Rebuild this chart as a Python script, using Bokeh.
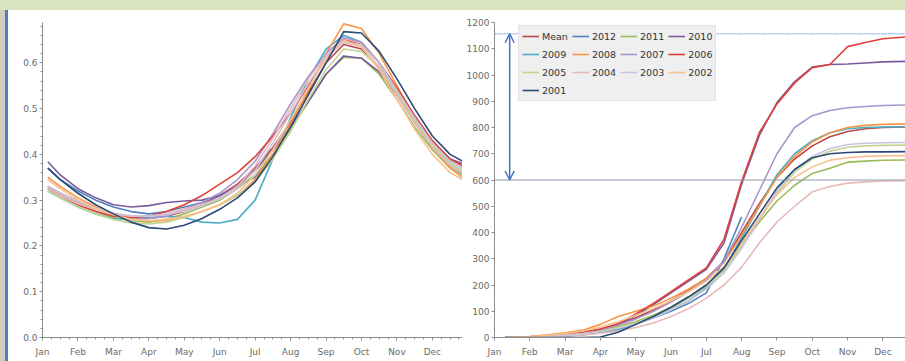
import math
from bokeh.plotting import figure
from bokeh.models import (FixedTicker, Legend, LegendItem, Arrow, OpenHead, Span,
                          Div, Range1d, NumeralTickFormatter)
from bokeh.layouts import row, column
from bokeh.embed import file_html
from bokeh.resources import INLINE

NaN = float("nan")

MONTHS = ["Jan", "Feb", "Mar", "Apr", "May", "Jun", "Jul", "Aug", "Sep", "Oct", "Nov", "Dec"]
MONTH_POS = [0, 1, 2, 3, 4, 5, 6, 7, 8, 9, 10, 11]

SERIES = ["Mean", "2012", "2011", "2010", "2009", "2008", "2007", "2006",
          "2005", "2004", "2003", "2002", "2001"]
COLORS = ["#b9474a", "#4f81bd", "#9bbb59", "#7a5a9e", "#4bacc6", "#f79646", "#a995cc",
          "#e0403a", "#c2d494", "#e8b9b7", "#c9c3dc", "#f9c08f", "#2a4a7a"]

# ---- left panel: x in months from 1 Jan, values ----
LEFT_X = [0.15, 0.5, 1, 1.5, 2, 2.5, 3, 3.5, 4, 4.5, 5, 5.5, 6, 6.5, 7, 7.5, 8, 8.5,
          9, 9.5, 10, 10.5, 11, 11.5, 11.85]
left_mean = [0.33, 0.315, 0.297, 0.283, 0.27, 0.262, 0.26, 0.265, 0.275, 0.29, 0.31, 0.335, 0.37, 0.415, 0.47, 0.535, 0.6, 0.64, 0.63, 0.59, 0.53, 0.47, 0.415, 0.375, 0.36]
left_2012 = [0.37, 0.345, 0.32, 0.3, 0.285, 0.275, 0.27, 0.275, 0.285, 0.295, 0.31, 0.33, 0.35, 0.4, 0.46, NaN, NaN, NaN, NaN, NaN, NaN, NaN, NaN, NaN, NaN]
left_2011 = [0.325, 0.31, 0.29, 0.275, 0.262, 0.255, 0.252, 0.258, 0.27, 0.285, 0.3, 0.325, 0.355, 0.4, 0.455, 0.515, 0.575, 0.612, 0.61, 0.575, 0.52, 0.46, 0.41, 0.37, 0.355]
left_2010 = [0.384, 0.355, 0.325, 0.305, 0.29, 0.285, 0.288, 0.295, 0.298, 0.3, 0.31, 0.33, 0.365, 0.41, 0.46, 0.515, 0.575, 0.615, 0.61, 0.58, 0.53, 0.475, 0.425, 0.39, 0.38]
left_2009 = [0.32, 0.305, 0.285, 0.27, 0.26, 0.258, 0.262, 0.265, 0.262, 0.252, 0.25, 0.258, 0.3, 0.39, 0.48, 0.565, 0.63, 0.66, 0.645, 0.6, 0.535, 0.47, 0.415, 0.375, 0.36]
left_2008 = [0.35, 0.33, 0.305, 0.285, 0.27, 0.26, 0.255, 0.255, 0.262, 0.275, 0.29, 0.31, 0.345, 0.4, 0.465, 0.54, 0.62, 0.685, 0.675, 0.62, 0.55, 0.48, 0.415, 0.37, 0.35]
left_2007 = [0.33, 0.315, 0.295, 0.28, 0.268, 0.26, 0.26, 0.265, 0.28, 0.295, 0.315, 0.345, 0.385, 0.445, 0.51, 0.57, 0.62, 0.655, 0.645, 0.6, 0.54, 0.48, 0.425, 0.385, 0.37]
left_2006 = [0.325, 0.31, 0.29, 0.275, 0.265, 0.262, 0.265, 0.275, 0.29, 0.31, 0.335, 0.36, 0.395, 0.44, 0.49, 0.55, 0.61, 0.65, 0.64, 0.6, 0.545, 0.485, 0.43, 0.39, 0.375]
left_2005 = [0.32, 0.305, 0.285, 0.27, 0.258, 0.25, 0.248, 0.252, 0.262, 0.275, 0.29, 0.31, 0.34, 0.39, 0.45, 0.52, 0.585, 0.63, 0.625, 0.59, 0.535, 0.475, 0.42, 0.38, 0.365]
left_2004 = [0.325, 0.31, 0.292, 0.28, 0.27, 0.265, 0.265, 0.27, 0.28, 0.29, 0.305, 0.33, 0.375, 0.435, 0.5, 0.565, 0.615, 0.645, 0.635, 0.59, 0.53, 0.47, 0.415, 0.375, 0.36]
left_2003 = [0.33, 0.315, 0.297, 0.283, 0.272, 0.266, 0.265, 0.268, 0.276, 0.288, 0.303, 0.325, 0.365, 0.425, 0.49, 0.555, 0.61, 0.645, 0.64, 0.6, 0.54, 0.48, 0.425, 0.385, 0.37]
left_2002 = [0.345, 0.325, 0.3, 0.282, 0.268, 0.258, 0.255, 0.258, 0.265, 0.275, 0.29, 0.315, 0.355, 0.41, 0.475, 0.545, 0.61, 0.65, 0.635, 0.585, 0.52, 0.455, 0.4, 0.36, 0.345]
left_2001 = [0.37, 0.345, 0.315, 0.29, 0.27, 0.252, 0.24, 0.237, 0.245, 0.26, 0.28, 0.305, 0.34, 0.395, 0.46, 0.53, 0.6, 0.668, 0.665, 0.625, 0.565, 0.5, 0.44, 0.4, 0.385]
LEFT_TICKS = [0.0, 0.1, 0.2, 0.3, 0.4, 0.5, 0.6]

# ---- right panel: cumulative values ----
RIGHT_X = [0.3, 1, 1.5, 2, 2.5, 3, 3.5, 4, 4.5, 5, 5.5, 6, 6.5, 7, 7.5, 8, 8.5, 9,
           9.5, 10, 10.5, 11, 11.64]
right_mean = [0, 2, 5, 10, 18, 30, 50, 75, 105, 140, 180, 225, 290, 400, 510, 610, 680, 730, 765, 785, 795, 800, 802]
right_2012 = [0, 1, 3, 6, 12, 20, 32, 55, 75, 100, 130, 170, 300, 460, NaN, NaN, NaN, NaN, NaN, NaN, NaN, NaN, NaN]
right_2011 = [0, 2, 5, 10, 17, 28, 42, 60, 85, 115, 155, 200, 260, 350, 440, 520, 580, 625, 645, 668, 672, 675, 676]
right_2010 = [0, 3, 6, 12, 20, 30, 50, 85, 125, 170, 215, 260, 360, 585, 770, 895, 975, 1030, 1040, 1042, 1046, 1050, 1052]
right_2009 = [0, 1, 3, 6, 10, 18, 30, 50, 75, 105, 140, 190, 260, 380, 500, 620, 700, 750, 780, 795, 800, 802, 803]
right_2008 = [0, 4, 10, 18, 28, 50, 80, 100, 120, 150, 185, 225, 285, 390, 500, 610, 690, 745, 780, 800, 808, 812, 814]
right_2007 = [0, 2, 5, 10, 18, 30, 48, 70, 100, 135, 175, 220, 290, 420, 560, 700, 800, 845, 865, 875, 880, 884, 886]
right_2006 = [0, 3, 6, 12, 20, 32, 52, 90, 130, 175, 220, 265, 375, 595, 780, 890, 970, 1028, 1040, 1108, 1124, 1138, 1145]
right_2005 = [0, 2, 5, 9, 15, 25, 38, 55, 80, 110, 150, 195, 255, 350, 450, 550, 630, 680, 710, 725, 730, 732, 733]
right_2004 = [0, 1, 3, 6, 10, 16, 25, 38, 55, 80, 110, 150, 200, 268, 360, 440, 500, 555, 575, 588, 593, 596, 597]
right_2003 = [0, 2, 4, 8, 14, 22, 35, 52, 75, 105, 140, 185, 245, 340, 450, 560, 640, 690, 720, 735, 740, 742, 743]
right_2002 = [0, 3, 8, 15, 25, 40, 60, 85, 110, 140, 175, 215, 270, 360, 455, 545, 610, 650, 675, 685, 690, 692, 693]
right_2001 = [0, 0, 0, 0, 0, 2, 20, 50, 80, 115, 155, 200, 265, 370, 470, 570, 640, 685, 700, 705, 707, 707, 708]
RIGHT_TICKS = [0, 100, 200, 300, 400, 500, 600, 700, 800, 900, 1000, 1100, 1200]
RANGE_TOP = 1157      # upper reference (dotted) level
RANGE_BOTTOM = 600    # lower reference level
ARROW_X = 0.43

LEFT_DATA = [left_mean, left_2012, left_2011, left_2010, left_2009, left_2008, left_2007,
             left_2006, left_2005, left_2004, left_2003, left_2002, left_2001]
RIGHT_DATA = [right_mean, right_2012, right_2011, right_2010, right_2009, right_2008, right_2007,
              right_2006, right_2005, right_2004, right_2003, right_2002, right_2001]

FONT = "DejaVu Sans"
AX_COLOR = "#8c8c8c"
LBL_COLOR = "#6a6a6a"


def style_axes(p):
    for ax in (p.xaxis[0], p.yaxis[0]):
        ax.axis_line_color = AX_COLOR
        ax.major_tick_line_color = AX_COLOR
        ax.minor_tick_line_color = AX_COLOR
        ax.major_tick_in = 0
        ax.major_tick_out = 3
        ax.minor_tick_in = 0
        ax.minor_tick_out = 2
        ax.major_label_text_font = FONT
        ax.major_label_text_font_size = "9px"
        ax.major_label_text_color = LBL_COLOR
    p.xaxis[0].major_label_standoff = 6
    p.yaxis[0].major_label_standoff = 2
    p.xgrid.visible = False
    p.ygrid.visible = False


# ---------- left figure ----------
left = figure(width=454, height=351, x_range=Range1d(0, 11.85), y_range=Range1d(0, 0.688),
              toolbar_location=None, output_backend="svg",
              min_border_left=34, min_border_right=0, min_border_top=12, min_border_bottom=22)
left.outline_line_color = None
left.background_fill_color = "white"
left.border_fill_color = "white"
for vals, col in zip(LEFT_DATA, COLORS):
    left.line(LEFT_X, vals, line_color=col, line_width=1.6, line_join="round")
left.xaxis[0].ticker = FixedTicker(ticks=MONTH_POS,
                                   minor_ticks=[m / 4 for m in range(0, 48)])
left.xaxis[0].major_label_overrides = {i: MONTHS[i] for i in MONTH_POS}
left.yaxis[0].ticker = FixedTicker(ticks=LEFT_TICKS,
                                   minor_ticks=[k / 50 for k in range(0, 35)])
left.yaxis[0].formatter = NumeralTickFormatter(format="0.0")
style_axes(left)

# ---------- right figure ----------
right = figure(width=443, height=351, x_range=Range1d(0, 11.64), y_range=Range1d(0, 1200),
               toolbar_location=None, output_backend="svg",
               min_border_left=32, min_border_right=0, min_border_top=12, min_border_bottom=24)
right.outline_line_color = None
right.background_fill_color = "white"
right.border_fill_color = "white"

right.add_layout(Span(location=RANGE_TOP, dimension="width", line_color="#9dbbe3",
                      line_width=1.5, line_dash="2 1"))
right.add_layout(Span(location=RANGE_BOTTOM, dimension="width", line_color="#8e9aac",
                      line_width=1))

renderers = []
order = list(range(len(SERIES)))
for i in order:
    r = right.line(RIGHT_X, RIGHT_DATA[i], line_color=COLORS[i], line_width=1.6,
                   line_join="round")
    renderers.append(r)

right.add_layout(Arrow(start=OpenHead(size=9, line_color="#3f73bd", line_width=1.5),
                       end=OpenHead(size=9, line_color="#3f73bd", line_width=1.5),
                       x_start=ARROW_X, y_start=RANGE_BOTTOM, x_end=ARROW_X, y_end=RANGE_TOP,
                       line_color="#3f73bd", line_width=1.5))

right.xaxis[0].ticker = FixedTicker(ticks=MONTH_POS)
right.xaxis[0].major_label_overrides = {i: MONTHS[i] for i in MONTH_POS}
right.yaxis[0].ticker = FixedTicker(ticks=RIGHT_TICKS)
style_axes(right)

legend = Legend(items=[LegendItem(label=SERIES[i], renderers=[renderers[i]]) for i in order],
                location=(24, 236), orientation="horizontal", ncols=4,
                background_fill_color="#efefef", background_fill_alpha=1.0,
                border_line_color="#d6d6d6", border_line_width=1,
                label_text_font=FONT, label_text_font_size="9.5px", label_text_color="#333333",
                glyph_width=17, glyph_height=10, label_standoff=3, label_height=14,
                spacing=4, padding=3, margin=0)
right.add_layout(legend)

band = Div(width=905, height=10, margin=0, styles={"background-color": "#d9e4c1"})
stripe1 = Div(width=5, height=351, margin=0, styles={"background-color": "#d3cfbf"})
stripe2 = Div(width=3, height=351, margin=0, styles={"background-color": "#4a7fc1"})

layout = column(band, row(stripe1, stripe2, left, right, spacing=0), spacing=0)

with open("out.html", "w") as f:
    f.write(file_html(layout, INLINE))
